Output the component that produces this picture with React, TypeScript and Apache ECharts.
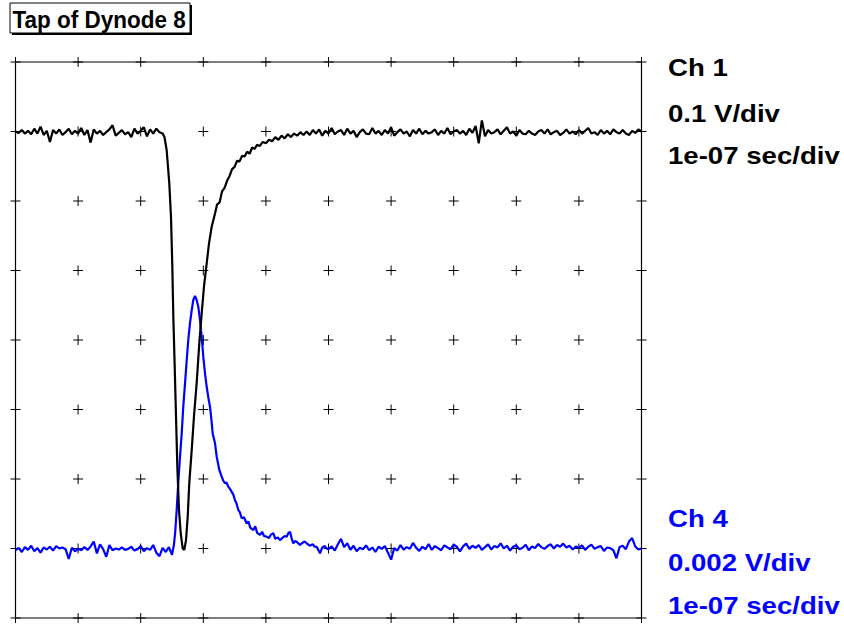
import React, { useEffect, useRef } from "react";
import * as echarts from "echarts";

const titleText = "Tap of Dynode 8";
const ch1Labels = ["Ch 1", "0.1 V/div", "1e-07 sec/div"];
const ch4Labels = ["Ch 4", "0.002 V/div", "1e-07 sec/div"];

// time in ns (100 ns/div), 10 divisions
const timeTicks = [0, 100, 200, 300, 400, 500, 600, 700, 800, 900, 1000];
// Ch 1 volts (0.1 V/div), 8 divisions
const ch1Ticks = [-0.4, -0.3, -0.2, -0.1, 0, 0.1, 0.2, 0.3, 0.4];
// Ch 4 range in mV (2 mV/div)
const ch4Range = [-8, 8];

// Ch 1 trace: [time ns, volts]
const ch1Trace = [
  [0, 0.300], [5, 0.298], [10, 0.302], [15, 0.297], [20, 0.301], [25, 0.296], [30, 0.304], [35, 0.297],
  [40, 0.307], [45, 0.295], [50, 0.301], [55, 0.285], [60, 0.302], [65, 0.297], [70, 0.303], [75, 0.295],
  [80, 0.299], [85, 0.304], [90, 0.296], [95, 0.301], [100, 0.297], [105, 0.305], [110, 0.295], [115, 0.302],
  [120, 0.284], [125, 0.303], [130, 0.297], [135, 0.301], [140, 0.295], [145, 0.299], [150, 0.303], [155, 0.309],
  [160, 0.294], [165, 0.298], [170, 0.302], [175, 0.296], [180, 0.299], [185, 0.292], [190, 0.304], [195, 0.297],
  [200, 0.301], [205, 0.306], [210, 0.293], [215, 0.303], [220, 0.297], [225, 0.304], [230, 0.299], [235, 0.297],
  [238, 0.292], [241.5, 0.273], [245.7, 0.225], [248.4, 0.177], [250.5, 0.106], [252.1, 0.034], [254.3, -0.038],
  [256.4, -0.110], [258.5, -0.182], [261.2, -0.245], [263.9, -0.278], [267.1, -0.300], [269.6, -0.302],
  [272.4, -0.288], [275.1, -0.254], [277.6, -0.206], [281.5, -0.158], [285.1, -0.110], [289.4, -0.062],
  [293.6, -0.005], [297.4, 0.038], [301.1, 0.077], [305.4, 0.110], [309.1, 0.139], [313.4, 0.163], [318.7, 0.182],
  [322, 0.195], [326, 0.198], [330, 0.214], [334, 0.219], [338, 0.229], [342, 0.236], [346, 0.246], [350, 0.249],
  [354, 0.258], [358, 0.257], [362, 0.265], [366, 0.264], [370, 0.271], [374, 0.268], [378, 0.277], [382, 0.275],
  [386, 0.281], [390, 0.279], [395, 0.285], [400, 0.283], [405, 0.288], [410, 0.286], [415, 0.292], [420, 0.288],
  [425, 0.294], [430, 0.290], [435, 0.296], [440, 0.292], [445, 0.297], [450, 0.294], [455, 0.299], [460, 0.295],
  [465, 0.300], [470, 0.295], [475, 0.302], [480, 0.297], [485, 0.303], [490, 0.294], [495, 0.301], [500, 0.297],
  [505, 0.305], [510, 0.296], [515, 0.300], [520, 0.302], [525, 0.295], [530, 0.304], [535, 0.297], [540, 0.301],
  [545, 0.292], [550, 0.299], [555, 0.303], [560, 0.297], [565, 0.296], [570, 0.305], [575, 0.297], [580, 0.301],
  [585, 0.295], [590, 0.302], [595, 0.297], [600, 0.306], [605, 0.294], [610, 0.299], [615, 0.303], [620, 0.297],
  [625, 0.300], [630, 0.293], [635, 0.302], [640, 0.297], [645, 0.304], [650, 0.296], [655, 0.301], [660, 0.297],
  [665, 0.299], [670, 0.303], [675, 0.295], [680, 0.301], [685, 0.297], [690, 0.305], [695, 0.296], [700, 0.300],
  [705, 0.302], [710, 0.297], [715, 0.301], [720, 0.295], [725, 0.304], [730, 0.298], [735, 0.308], [740, 0.283],
  [745, 0.316], [750, 0.293], [755, 0.302], [760, 0.297], [765, 0.299], [770, 0.303], [775, 0.296], [780, 0.301],
  [785, 0.306], [790, 0.297], [795, 0.300], [800, 0.294], [805, 0.302], [810, 0.297], [815, 0.296], [820, 0.301],
  [825, 0.297], [830, 0.295], [835, 0.300], [840, 0.302], [845, 0.297], [850, 0.303], [855, 0.296], [860, 0.299],
  [865, 0.301], [870, 0.295], [875, 0.298], [880, 0.303], [885, 0.297], [890, 0.300], [895, 0.296], [900, 0.302],
  [905, 0.297], [910, 0.301], [915, 0.305], [920, 0.297], [925, 0.299], [930, 0.295], [935, 0.302], [940, 0.297],
  [945, 0.301], [950, 0.296], [955, 0.303], [960, 0.299], [965, 0.297], [970, 0.302], [975, 0.297], [980, 0.295],
  [985, 0.301], [990, 0.298], [995, 0.303], [1000, 0.300],
];

// Ch 4 trace: [time ns, millivolts]
const ch4Trace = [
  [0, -6.05], [5, -5.98], [10, -6.10], [15, -5.96], [20, -6.04], [25, -5.92], [30, -6.08], [35, -5.99],
  [40, -6.12], [45, -5.97], [50, -6.03], [55, -5.95], [60, -6.06], [65, -5.93], [70, -6.00], [75, -5.97],
  [80, -6.02], [85, -6.30], [90, -5.98], [95, -6.08], [100, -6.01], [105, -6.05], [110, -5.96], [115, -6.04],
  [120, -5.94], [125, -5.80], [130, -6.14], [135, -5.88], [140, -6.02], [145, -6.24], [150, -5.90], [155, -6.05],
  [160, -6.00], [165, -6.03], [170, -5.97], [175, -6.04], [180, -6.01], [185, -5.95], [190, -6.06], [195, -6.02],
  [200, -5.93], [205, -6.08], [210, -5.99], [215, -6.04], [220, -5.90], [225, -6.12], [230, -6.22], [235, -5.98],
  [240, -6.10], [245, -5.96], [250, -6.18],
  [253, -5.90], [255, -5.56], [257.5, -4.89], [260, -4.12], [262.8, -3.36], [265.5, -2.69], [268, -1.92],
  [270.8, -1.25], [273.5, -0.58], [276, 0.00], [278.7, 0.48], [281.5, 0.86], [284, 1.15], [286.7, 1.27],
  [289.4, 1.15], [292, 0.96], [294.7, 0.58], [297.4, 0.10], [300, -0.48], [302.7, -0.96], [305.4, -1.34],
  [308, -1.65], [310.7, -1.92], [313, -2.30], [315, -2.69], [318.7, -2.97], [321.4, -3.36], [325.6, -3.74],
  [329.4, -3.93], [332, -4.05], [334.6, -4.12], [337, -4.10], [339.9, -4.22], [342.5, -4.28], [345.4, -4.37],
  [348, -4.45], [350.6, -4.61], [353, -4.70], [355.9, -4.89], [358.5, -4.96], [361.3, -5.13], [365, -5.10],
  [369.3, -5.28], [372, -5.22], [375, -5.40], [379.9, -5.47], [383, -5.36], [386, -5.55], [390.6, -5.61],
  [394, -5.52], [397, -5.64], [401.3, -5.66], [405, -5.70], [408, -5.60], [411.8, -5.56], [415, -5.72],
  [419, -5.68], [422.5, -5.76], [426, -5.70], [430, -5.64], [433.2, -5.66], [436, -5.55], [438.5, -5.52],
  [441, -5.70], [443.8, -5.85], [447, -5.78], [450, -5.82], [454.5, -5.90], [458, -5.84], [462, -5.80],
  [465.2, -5.85], [470, -5.92], [475, -5.88], [478, -5.95], [481.1, -5.95], [484, -6.05], [486.4, -6.14],
  [490, -5.97], [494, -5.93], [497.1, -6.00],
  [500, -6.02], [505, -5.94], [510, -6.06], [515, -5.88], [520, -5.72], [525, -5.96], [530, -5.85], [535, -6.04],
  [540, -5.92], [545, -6.08], [550, -5.98], [555, -6.02], [560, -5.91], [565, -6.05], [570, -5.97], [575, -6.10],
  [580, -5.95], [585, -6.01], [590, -5.93], [595, -6.12], [600, -6.32], [605, -5.99], [610, -6.06], [615, -5.90],
  [620, -6.03], [625, -5.96], [630, -6.01], [635, -5.84], [640, -5.98], [645, -6.07], [650, -5.95], [655, -6.02],
  [660, -5.87], [665, -6.04], [670, -5.93], [675, -5.99], [680, -6.05], [685, -5.91], [690, -5.97], [695, -6.02],
  [700, -5.89], [705, -5.95], [710, -6.08], [715, -5.94], [720, -5.86], [725, -6.01], [730, -5.92], [735, -5.98],
  [740, -5.90], [745, -6.04], [750, -5.96], [755, -5.88], [760, -6.03], [765, -5.93], [770, -5.97], [775, -5.85],
  [780, -6.00], [785, -5.92], [790, -6.06], [795, -5.95], [800, -5.91], [805, -6.02], [810, -5.98], [815, -5.89],
  [820, -6.05], [825, -5.94], [830, -5.99], [835, -5.87], [840, -5.96], [845, -6.01], [850, -5.93], [855, -5.88],
  [860, -6.00], [865, -5.90], [870, -5.95], [875, -5.86], [880, -5.97], [885, -5.92], [890, -6.03], [895, -5.94],
  [900, -5.98], [905, -5.91], [910, -6.04], [915, -5.95], [920, -5.89], [925, -6.01], [930, -5.96], [935, -5.93],
  [940, -6.07], [945, -5.97], [950, -5.99], [955, -6.05], [960, -6.28], [965, -5.96], [970, -5.92], [975, -6.02],
  [980, -5.80], [985, -5.70], [990, -5.94], [995, -6.03], [1000, -6.00],
];

const FONT = "'Liberation Sans', Arial, Helvetica, sans-serif";

export default function App() {
  const ref = useRef<HTMLDivElement>(null);

  useEffect(() => {
    if (!ref.current) return;
    const chart = echarts.init(ref.current, null, { renderer: "svg" });

    const crossData: number[][] = [];
    timeTicks.forEach((t) => ch1Ticks.forEach((v) => crossData.push([t, v])));

    const labelGraphics: any[] = [];
    const ch1Y = [68, 113.5, 156];
    const ch4Y = [518.5, 562.5, 606];
    ch1Labels.forEach((txt, i) =>
      labelGraphics.push({
        type: "text",
        x: 668,
        y: ch1Y[i],
        scaleX: 1.2,
        style: { text: txt, fill: "#000", font: `bold 23px ${FONT}`, align: "left", verticalAlign: "middle" },
      })
    );
    ch4Labels.forEach((txt, i) =>
      labelGraphics.push({
        type: "text",
        x: 668,
        y: ch4Y[i],
        scaleX: 1.2,
        style: { text: txt, fill: "#0000ff", font: `bold 23px ${FONT}`, align: "left", verticalAlign: "middle" },
      })
    );

    chart.setOption({
      animation: false,
      backgroundColor: "#fff",
      grid: {
        left: 15.5,
        top: 62,
        width: 626,
        height: 556,
        show: true,
        borderColor: "#000",
        borderWidth: 1.2,
        backgroundColor: "transparent",
      },
      xAxis: {
        type: "value",
        min: timeTicks[0],
        max: timeTicks[timeTicks.length - 1],
        interval: 100,
        show: false,
      },
      yAxis: [
        { type: "value", min: ch1Ticks[0], max: ch1Ticks[ch1Ticks.length - 1], show: false },
        { type: "value", min: ch4Range[0], max: ch4Range[1], show: false },
      ],
      graphic: [
        { type: "rect", shape: { x: 12, y: 5, width: 180, height: 30 }, style: { fill: "#000" } },
        {
          type: "rect",
          shape: { x: 10, y: 3, width: 180, height: 30 },
          style: { fill: "#fff", stroke: "#000", lineWidth: 1 },
        },
        {
          type: "text",
          x: 12.5,
          y: 19.5,
          scaleY: 1.06,
          style: { text: titleText, fill: "#000", font: `bold 22.5px ${FONT}`, align: "left", verticalAlign: "middle" },
        },
        ...labelGraphics,
      ],
      series: [
        {
          type: "custom",
          clip: false,
          silent: true,
          data: crossData,
          renderItem: (params: any, api: any) => {
            const p = api.coord([api.value(0), api.value(1)]);
            return {
              type: "group",
              children: [
                {
                  type: "line",
                  shape: { x1: p[0] - 5, y1: p[1], x2: p[0] + 5, y2: p[1] },
                  style: { stroke: "#000", lineWidth: 1 },
                },
                {
                  type: "line",
                  shape: { x1: p[0], y1: p[1] - 5, x2: p[0], y2: p[1] + 5 },
                  style: { stroke: "#000", lineWidth: 1 },
                },
              ],
            };
          },
        },
        {
          type: "line",
          name: "Ch 4",
          yAxisIndex: 1,
          data: ch4Trace,
          showSymbol: false,
          lineStyle: { color: "#0000ff", width: 2.2 },
          itemStyle: { color: "#0000ff" },
        },
        {
          type: "line",
          name: "Ch 1",
          yAxisIndex: 0,
          data: ch1Trace,
          showSymbol: false,
          lineStyle: { color: "#000", width: 2.2 },
          itemStyle: { color: "#000" },
        },
      ],
    });

    return () => chart.dispose();
  }, []);

  return (
    <div
      ref={ref}
      style={{ position: "fixed", left: 0, top: 0, width: 844, height: 626, background: "#fff" }}
    />
  );
}
